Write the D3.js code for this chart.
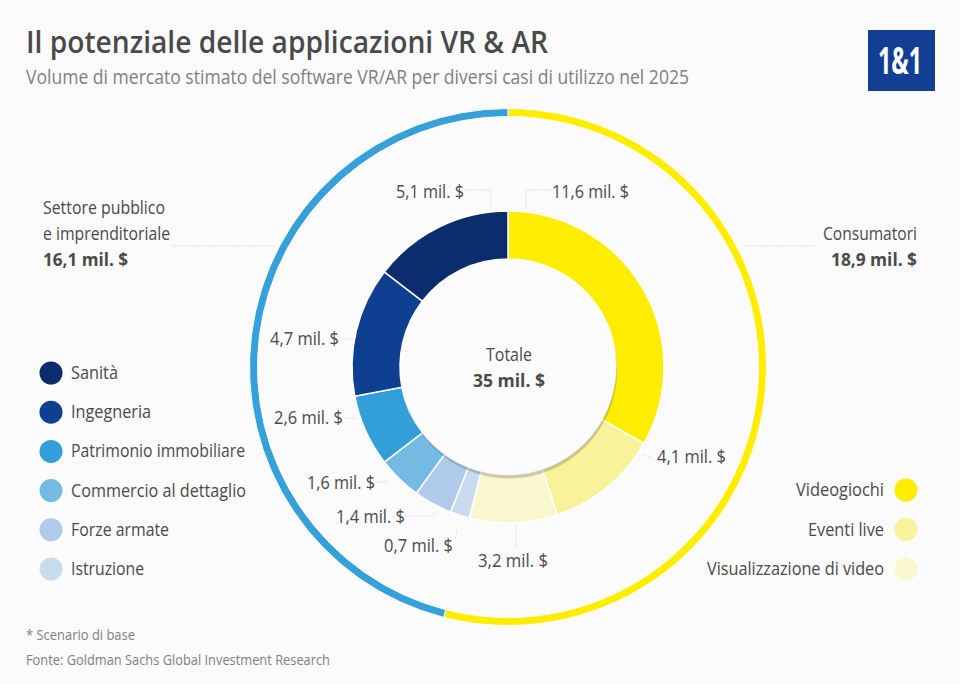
<!DOCTYPE html>
<html>
<head>
<meta charset="utf-8">
<script src="https://cdn.jsdelivr.net/npm/d3@7"></script>
<style>
  html, body { margin: 0; padding: 0; background: #fbfbfc; }
  svg { display: block; }
  text { font-family: "Open Sans", sans-serif; fill: #4a4a4a; }
</style>
</head>
<body>
<svg id="chart" width="960" height="684"></svg>
<script>
// wedges, clockwise from 12 o'clock
var segments = ["Videogiochi", "Eventi live", "Visualizzazione di video", "Istruzione", "Forze armate",
  "Commercio al dettaglio", "Patrimonio immobiliare", "Ingegneria", "Sanità"];
var segmentValues = [11.6, 4.1, 3.2, 0.7, 1.4, 1.6, 2.6, 4.7, 5.1];
var segmentColors = ["#ffed00", "#f8f39b", "#f9f7cd", "#c9dcef", "#aecbea", "#74bae2", "#339fd9", "#0e3f91", "#0b2d6e"];

var groups = ["Consumatori", "Settore pubblico"];
var groupValues = [18.9, 16.1];
var groupColors = ["#ffed00", "#36a0db"];

var legendLeft = ["Sanità", "Ingegneria", "Patrimonio immobiliare", "Commercio al dettaglio", "Forze armate", "Istruzione"];
var legendRight = ["Videogiochi", "Eventi live", "Visualizzazione di video"];

var svg = d3.select("#chart");
var cx = 508, cy = 367;

var color = d3.scaleOrdinal().domain(segments).range(segmentColors);

// squeeze text to the width it has in the picture
function label(x, y, str, width, opts) {
  opts = opts || {};
  var t = svg.append("text")
    .attr("x", x)
    .attr("y", y)
    .attr("text-anchor", opts.anchor || "start")
    .attr("font-size", opts.size || 18.5)
    .attr("font-weight", opts.weight || 400)
    .text(str);
  if (opts.fill) t.style("fill", opts.fill);
  if (width) t.attr("textLength", width).attr("lengthAdjust", "spacingAndGlyphs");
  return t;
}

function money(v) {
  return String(v).replace(".", ",") + " mil. $";
}

// outer ring
var pie = d3.pie().sort(null);
var outerArc = d3.arc().innerRadius(250.5).outerRadius(258.5);
var ring = svg.append("g").attr("transform", "translate(" + cx + "," + cy + ")");
ring.selectAll("path")
  .data(pie(groupValues))
  .enter()
  .append("path")
  .attr("d", outerArc)
  .attr("fill", function (d, i) { return groupColors[i]; })
  .attr("stroke", "#ffffff")
  .attr("stroke-width", 1);

// inner donut
var innerArc = d3.arc().innerRadius(108).outerRadius(156);
var donut = svg.append("g").attr("transform", "translate(" + cx + "," + cy + ")");
donut.selectAll("path")
  .data(pie(segmentValues))
  .enter()
  .append("path")
  .attr("d", innerArc)
  .attr("fill", function (d, i) { return color(segments[i]); })
  .attr("stroke", "#ffffff")
  .attr("stroke-width", 1.5);

// shadow on the inner edge, lower right side only
svg.append("clipPath").attr("id", "rim")
  .append("path")
  .attr("transform", "translate(" + cx + "," + cy + ")")
  .attr("d", d3.arc().innerRadius(108).outerRadius(113).startAngle(0).endAngle(2 * Math.PI)());
svg.append("circle")
  .attr("cx", cx + 1)
  .attr("cy", cy + 3.5)
  .attr("r", 108)
  .attr("fill", "#000000")
  .attr("fill-opacity", 0.18)
  .attr("clip-path", "url(#rim)");

// leader lines
var leaders = [
  "M464,190H491V209", "M552,190H526V209", "M172,246H275", "M745,246H818",
  "M341,339H353", "M345,418H357", "M376,482H388", "M405,516H432L437,511",
  "M455,540L457,530", "M516,526V549", "M643,455L652,458"
];
svg.append("g").selectAll("path")
  .data(leaders)
  .enter()
  .append("path")
  .attr("d", function (d) { return d; })
  .attr("fill", "none")
  .attr("stroke", "#dcdcdc")
  .attr("stroke-width", 1)
  .attr("stroke-dasharray", "1.5 1");

// titles
label(26, 53, "Il potenziale delle applicazioni VR & AR", 522, { size: 31, weight: 600 });
label(26, 84, "Volume di mercato stimato del software VR/AR per diversi casi di utilizzo nel 2025", 663, { size: 20, fill: "#808080" });

// logo
svg.append("rect").attr("x", 868).attr("y", 30).attr("width", 67).attr("height", 61).attr("fill", "#123f94");
label(900, 74, "1&1", 44, { size: 38, weight: 700, anchor: "middle", fill: "#ffffff" });

// value labels
var valueX = [552, 657, 478, 384, 336, 307, 274, 270, 396];
var valueY = [198, 463, 567, 552, 523, 489, 424, 345, 198];
var valueW = [77, 69, 70, 69, 69, 68, 69, 69, 68];
segmentValues.forEach(function (v, i) {
  label(valueX[i], valueY[i], money(v), valueW[i]);
});

// group labels
label(43, 214, "Settore pubblico", 122);
label(43, 240, "e imprenditoriale", 127);
label(43, 266, money(groupValues[1]), 85, { weight: 700 });
label(917, 240, groups[0], 94, { anchor: "end" });
label(917, 266, money(groupValues[0]), 86, { anchor: "end", weight: 700 });

// centre
label(cx + 1, 361, "Totale", 46, { anchor: "middle" });
label(cx + 1, 387, money(d3.sum(segmentValues)).replace(",0", ""), 72, { anchor: "middle", weight: 700 });

// legends
var legendLeftW = [47, 80, 174, 175, 98, 73];
var legendY = d3.scalePoint().domain(legendLeft).range([373, 569]);
legendLeft.forEach(function (name, i) {
  svg.append("circle").attr("cx", 51).attr("cy", legendY(name)).attr("r", 11.5).attr("fill", color(name));
  label(71, legendY(name) + 6, name, legendLeftW[i]);
});

var legendRightW = [88, 76, 177];
var legendRightY = d3.scalePoint().domain(legendRight).range([490, 569]);
legendRight.forEach(function (name, i) {
  svg.append("circle").attr("cx", 906).attr("cy", legendRightY(name)).attr("r", 11.5).attr("fill", color(name));
  label(884, legendRightY(name) + 6, name, legendRightW[i], { anchor: "end" });
});

// footnotes
label(26, 640, "* Scenario di base", 109, { size: 15, fill: "#808080" });
label(26, 665, "Fonte: Goldman Sachs Global Investment Research", 304, { size: 15, fill: "#808080" });
</script>
</body>
</html>
